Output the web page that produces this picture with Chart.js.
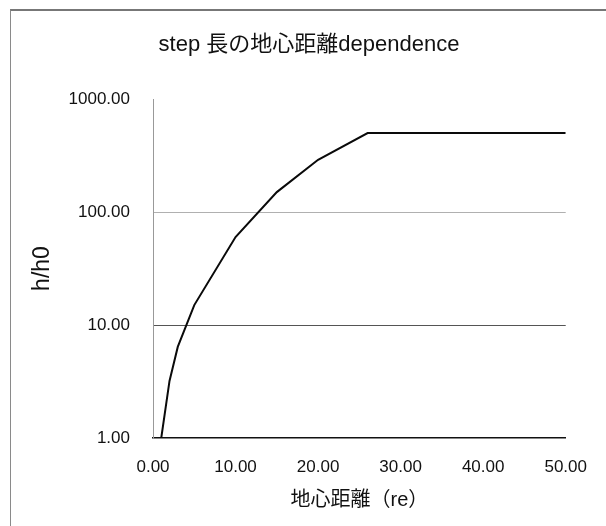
<!DOCTYPE html>
<html>
<head>
<meta charset="utf-8">
<script src="https://cdn.jsdelivr.net/npm/chart.js@4"></script>
<style>
  html, body { margin: 0; padding: 0; background: #fff; }
  #wrap { position: relative; width: 606px; height: 526px; overflow: hidden; }
  #frame { position: absolute; left: 10px; top: 9px; width: 700px; height: 700px;
           border-left: 1px solid #8a8a8a; border-top: 2px solid #777; }
  canvas { position: absolute; left: 0; top: 0; }
</style>
</head>
<body>
<div id="wrap">
  <div id="frame"></div>
  <canvas id="c" width="606" height="526"></canvas>
</div>
<script>
// ---- data ----
const distance = [1, 2, 3, 5, 10, 15, 20, 26, 50];         // 地心距離 (re)
const ratio    = [1, 3.2, 6.4, 15, 60, 150, 290, 500, 500]; // h/h0
const yTicks   = [1, 10, 100, 1000];
const xMin = 0, xMax = 50, xStep = 10;

const titleText = 'step 長の地心距離dependence';
const xTitle = '地心距離（re）';
const yTitle = 'h/h0';

const FONT = '"Liberation Sans", Arial, "Noto Sans CJK JP", sans-serif';

const points = distance.map((x, i) => ({ x: x, y: ratio[i] }));

new Chart(document.getElementById('c'), {
  type: 'line',
  data: {
    datasets: [{
      data: points,
      borderColor: '#0a0a0a',
      borderWidth: 2,
      pointRadius: 0,
      tension: 0,
      fill: false
    }]
  },
  options: {
    responsive: false,
    animation: false,
    layout: { padding: { left: 52, right: 40, top: 0, bottom: 0 } },
    plugins: {
      legend: { display: false },
      tooltip: { enabled: false },
      title: {
        display: true,
        text: titleText,
        color: '#111',
        font: { family: FONT, size: 22, weight: 'normal' },
        padding: { top: 32, bottom: 40.6 }
      }
    },
    scales: {
      x: {
        type: 'linear',
        min: xMin, max: xMax,
        ticks: {
          stepSize: xStep,
          color: '#111',
          padding: 19,
          font: { family: FONT, size: 17 },
          callback: v => Number(v).toFixed(2)
        },
        grid: { display: false, drawTicks: false },
        border: { display: true, color: '#111', width: 1.5 },
        title: {
          display: true,
          text: xTitle,
          color: '#111',
          font: { family: FONT, size: 20 },
          padding: { top: 14, bottom: 14 }
        },
        afterFit: s => { s.height = 88; }
      },
      y: {
        type: 'logarithmic',
        min: 1, max: 1000,
        afterBuildTicks: s => { s.ticks = yTicks.map(v => ({ value: v })); },
        ticks: {
          color: '#111',
          padding: 23,
          font: { family: FONT, size: 17 },
          callback: v => Number(v).toFixed(2)
        },
        grid: {
          drawTicks: false,
          lineWidth: 1,
          color: ctx => {
            const v = ctx.tick && ctx.tick.value;
            if (v === 10) return '#555';
            if (v === 100) return '#b0b0b0';
            return 'rgba(0,0,0,0)';
          }
        },
        border: { display: true, color: '#999', width: 1 },
        title: {
          display: true,
          text: yTitle,
          color: '#111',
          font: { family: FONT, size: 23 },
          padding: { top: -22.8, bottom: -22.8 }
        },
        afterFit: s => { s.width = 101; }
      }
    }
  }
});
</script>
</body>
</html>
